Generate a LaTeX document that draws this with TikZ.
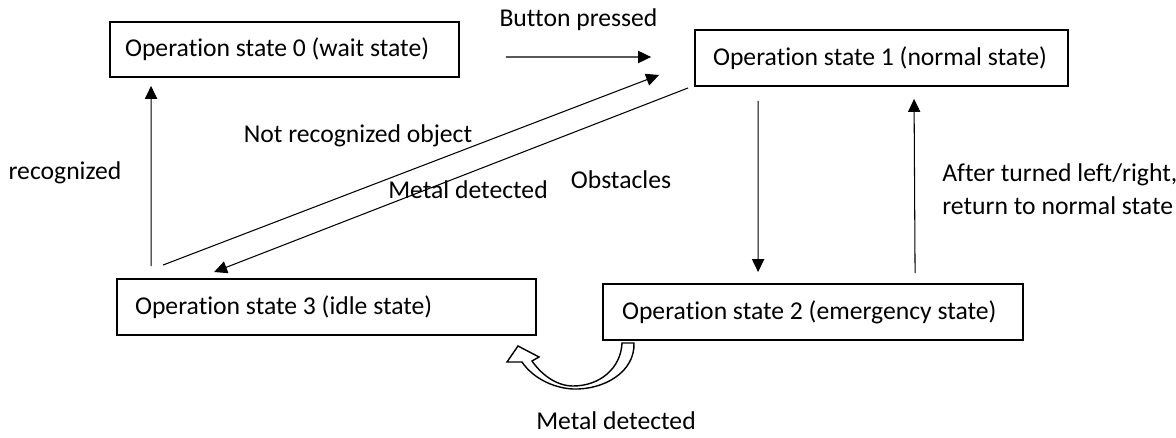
\documentclass[tikz,border=0pt]{standalone}
\usepackage{fontspec}
\setmainfont{Carlito}[Ligatures={NoCommon}]
\usetikzlibrary{calc,arrows.meta}
\newcommand{\boxtext}[2]{\makebox[#1][l]{#2}}
\begin{document}
\begin{tikzpicture}[x=0.02cm,y=-0.02cm,
  font=\fontsize{14.6}{18.7}\selectfont,
  statebox/.style={draw,line width=1.1pt,rectangle,minimum height=56*0.02cm,inner ysep=0pt},
  conn/.style={line width=0.6pt,-{Triangle[length=7.4pt,width=7pt]}},
  lbl/.style={inner sep=0pt}]
\useasboundingbox (0,0) rectangle (1176,438);
\node[statebox,inner xsep=15*0.02cm,minimum height=55*0.02cm] (b0) at (284.5,49.5) {\boxtext{6.38cm}{Operation state 0 (wait state)}};
\node[statebox,inner xsep=18*0.02cm] (b1) at (881.5,58) {\boxtext{6.74cm}{Operation state 1 (normal state)}};
\node[statebox,inner xsep=19*0.02cm] (b2) at (813,312) {\boxtext{7.64cm}{Operation state 2 (emergency state)}};
\node[statebox,inner xsep=18*0.02cm] (b3) at (326.5,307) {\boxtext{7.66cm}{Operation state 3 (idle state)}};
% connectors
\draw[conn] ($(b0.east)+(46,7.5)$) -- ($(b1.west)+(-43,-1)$);
\draw[conn] ($(b3.north west)+(35,-12)$) -- ($(b0.south west)+(42,8)$);
\draw[conn] ($(b3.north west)+(47,-13)$) -- ($(b1.west)+(-35,17)$);
\draw[conn] ($(b1.south west)+(-6,1)$) -- ($(b3.north west)+(98,-6)$);
\draw[conn] ($(b1.south west)+(64,14)$) -- ($(b2.north west)+(156,-11)$);
\draw[conn] ($(b2.north west)+(313,-10)$) -- ($(b1.south west)+(220,12)$);
% hollow curved arrow
\draw[line width=0.8pt,fill=white,line join=miter]
  (634,343) .. controls (635,372) and (604,390) .. (573,389)
  .. controls (552,388) and (532,377) .. (522,362)
  -- (507,362) -- (518,346) -- (539,357) -- (532,361)
  .. controls (541,374) and (556,386) .. (573,386)
  .. controls (600,386) and (621,368) .. (622,343) -- cycle;
% labels
\node[lbl] (lbutton) at (578.5,20) {Button pressed};
\node[lbl] (lrec) at (65,173) {recognized};
\node[lbl] (lnot) at (358,136) {Not recognized object};
\node[lbl] (lmetal1) at (468,190) {Metal detected};
\node[lbl] (lobst) at (621,180) {Obstacles};
\node[lbl,align=left,anchor=west] (lafter) at (942,189) {After turned left/right,\\return to normal state};
\node[lbl] (lmetal2) at (616,421) {Metal detected};
\end{tikzpicture}
\end{document}
